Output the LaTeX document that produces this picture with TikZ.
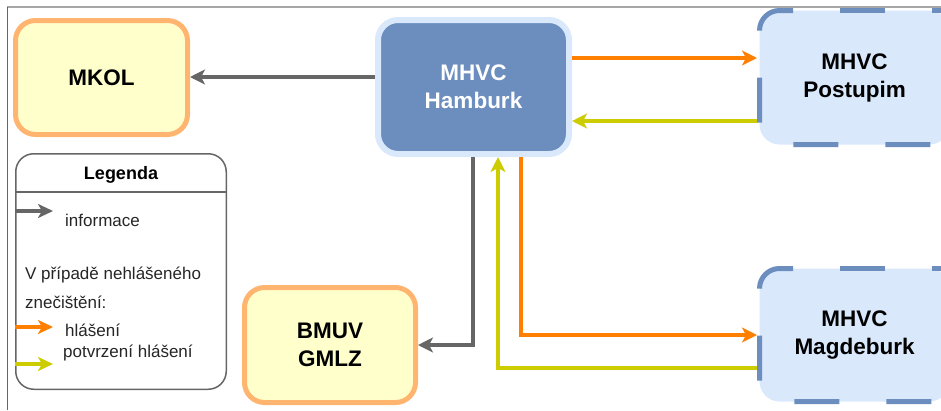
\documentclass[tikz,border=0pt]{standalone}
\usepackage{fontspec}
\setmainfont{Liberation Sans}
\usetikzlibrary{arrows.meta}
\definecolor{boxyellow}{HTML}{FFFFCC}
\definecolor{boxorange}{HTML}{FFB570}
\definecolor{lightblue}{HTML}{DAE8FC}
\definecolor{darkblue}{HTML}{6C8EBF}
\definecolor{arrgray}{HTML}{666666}
\definecolor{arrorange}{HTML}{FF8000}
\definecolor{arryellow}{HTML}{CCCC00}
\definecolor{framegray}{HTML}{A6A6A6}
\tikzset{
  base/.style={rectangle, rounded corners=20pt, align=center, inner sep=0pt,
    font=\fontsize{22.5}{28}\selectfont\bfseries},
  yelbox/.style={base, fill=boxyellow, draw=boxorange, line width=5pt},
  darkbox/.style={base, fill=darkblue, draw=lightblue, line width=6pt, text=white},
  bluebox/.style={base, fill=lightblue, draw=none, outer sep=2.5pt},
  dashborder/.style={draw=darkblue, line width=5pt, rounded corners=20pt, dash pattern=on 45pt off 47pt},
  legbox/.style={rectangle, rounded corners=18pt, draw=arrgray, line width=1.5pt, fill=white},
  legtext/.style={anchor=west, inner sep=0pt, font=\fontsize{17}{20}\selectfont, text=black!85},
  conn/.style={line width=3.2pt, -{Stealth[length=15pt,width=15pt,inset=4pt]}},
  legconn/.style={line width=3.2pt, -{Stealth[length=15pt,width=14pt,inset=4pt]}},
}
\begin{document}
\begin{tikzpicture}[x=1pt,y=-1pt]
\useasboundingbox (0,0) rectangle (941,410);
% frame
\draw[framegray, line width=1.5pt] (7,7) -- (941,7);
\draw[arrgray, line width=1pt] (7,7) -- (7,410);

% nodes
\node[yelbox, minimum width=172pt, minimum height=114pt] (mkol) at (101.5,77.5) {MKOL};
\node[darkbox, minimum width=191pt, minimum height=134pt] (ham) at (473.5,87) {MHVC\\Hamburk};
\node[bluebox, minimum width=190pt, minimum height=134pt] (post) at (854.5,77.5) {MHVC\\Postupim};
\node[bluebox, minimum width=190pt, minimum height=133pt] (magd) at (854.5,335) {MHVC\\Magdeburk};
\node[yelbox, minimum width=171pt, minimum height=115pt] (bmuv) at (330,345) {BMUV\\GMLZ};

% dashed borders
\draw[dashborder] (793,10.5) -- (759.5,10.5) -- (759.5,144.5) -- (960,144.5);
\draw[dashborder, dash phase=45pt] (793,10.5) -- (960,10.5);
\draw[dashborder] (793,268.5) -- (759.5,268.5) -- (759.5,401.5) -- (960,401.5);
\draw[dashborder, dash phase=45pt] (793,268.5) -- (960,268.5);

% legend
\node[legbox, minimum width=210.5pt, minimum height=235.5pt] (leg) at (121,271.5) {};
\draw[arrgray, line width=1.5pt] (leg.west |- 0,192) -- (leg.east |- 0,192);
\node[inner sep=0pt, font=\fontsize{18}{20}\selectfont\bfseries] (legt) at (121,175) {Legenda};
\coordinate (l1) at (53,211);
\coordinate (l2) at (53,327);
\coordinate (l3) at (53,364);
\draw[legconn, arrgray] (leg.west |- l1) -- (l1);
\draw[legconn, arrorange] (leg.west |- l2) -- (l2);
\draw[legconn, arryellow] (leg.west |- l3) -- (l3);
\node[legtext] (t1) at (65,220) {informace};
\node[legtext] (t2) at (25,275) {V případě nehlášeného};
\node[legtext] (t3) at (25,302) {znečištění:};
\node[legtext] (t4) at (65,330) {hlášení};
\node[legtext] (t5) at (63,353) {potvrzení hlášení};

% connectors
\draw[conn, arrgray] (ham.west |- 0,77) -- (mkol.east |- 0,77);
\draw[conn, arrorange] (ham.east |- 0,58) -- (post.west |- 0,58);
\draw[conn, arryellow] (post.west |- 0,121) -- (ham.east |- 0,121);
\draw[conn, arrgray] (ham.south -| 473,0) -- (473,345) -- (bmuv.east |- 0,345);
\draw[conn, arrorange] (ham.south -| 521,0) |- (magd.west |- 0,335);
\draw[conn, arryellow] (magd.west |- 0,368) -| (ham.south -| 498,0);
\end{tikzpicture}
\end{document}
